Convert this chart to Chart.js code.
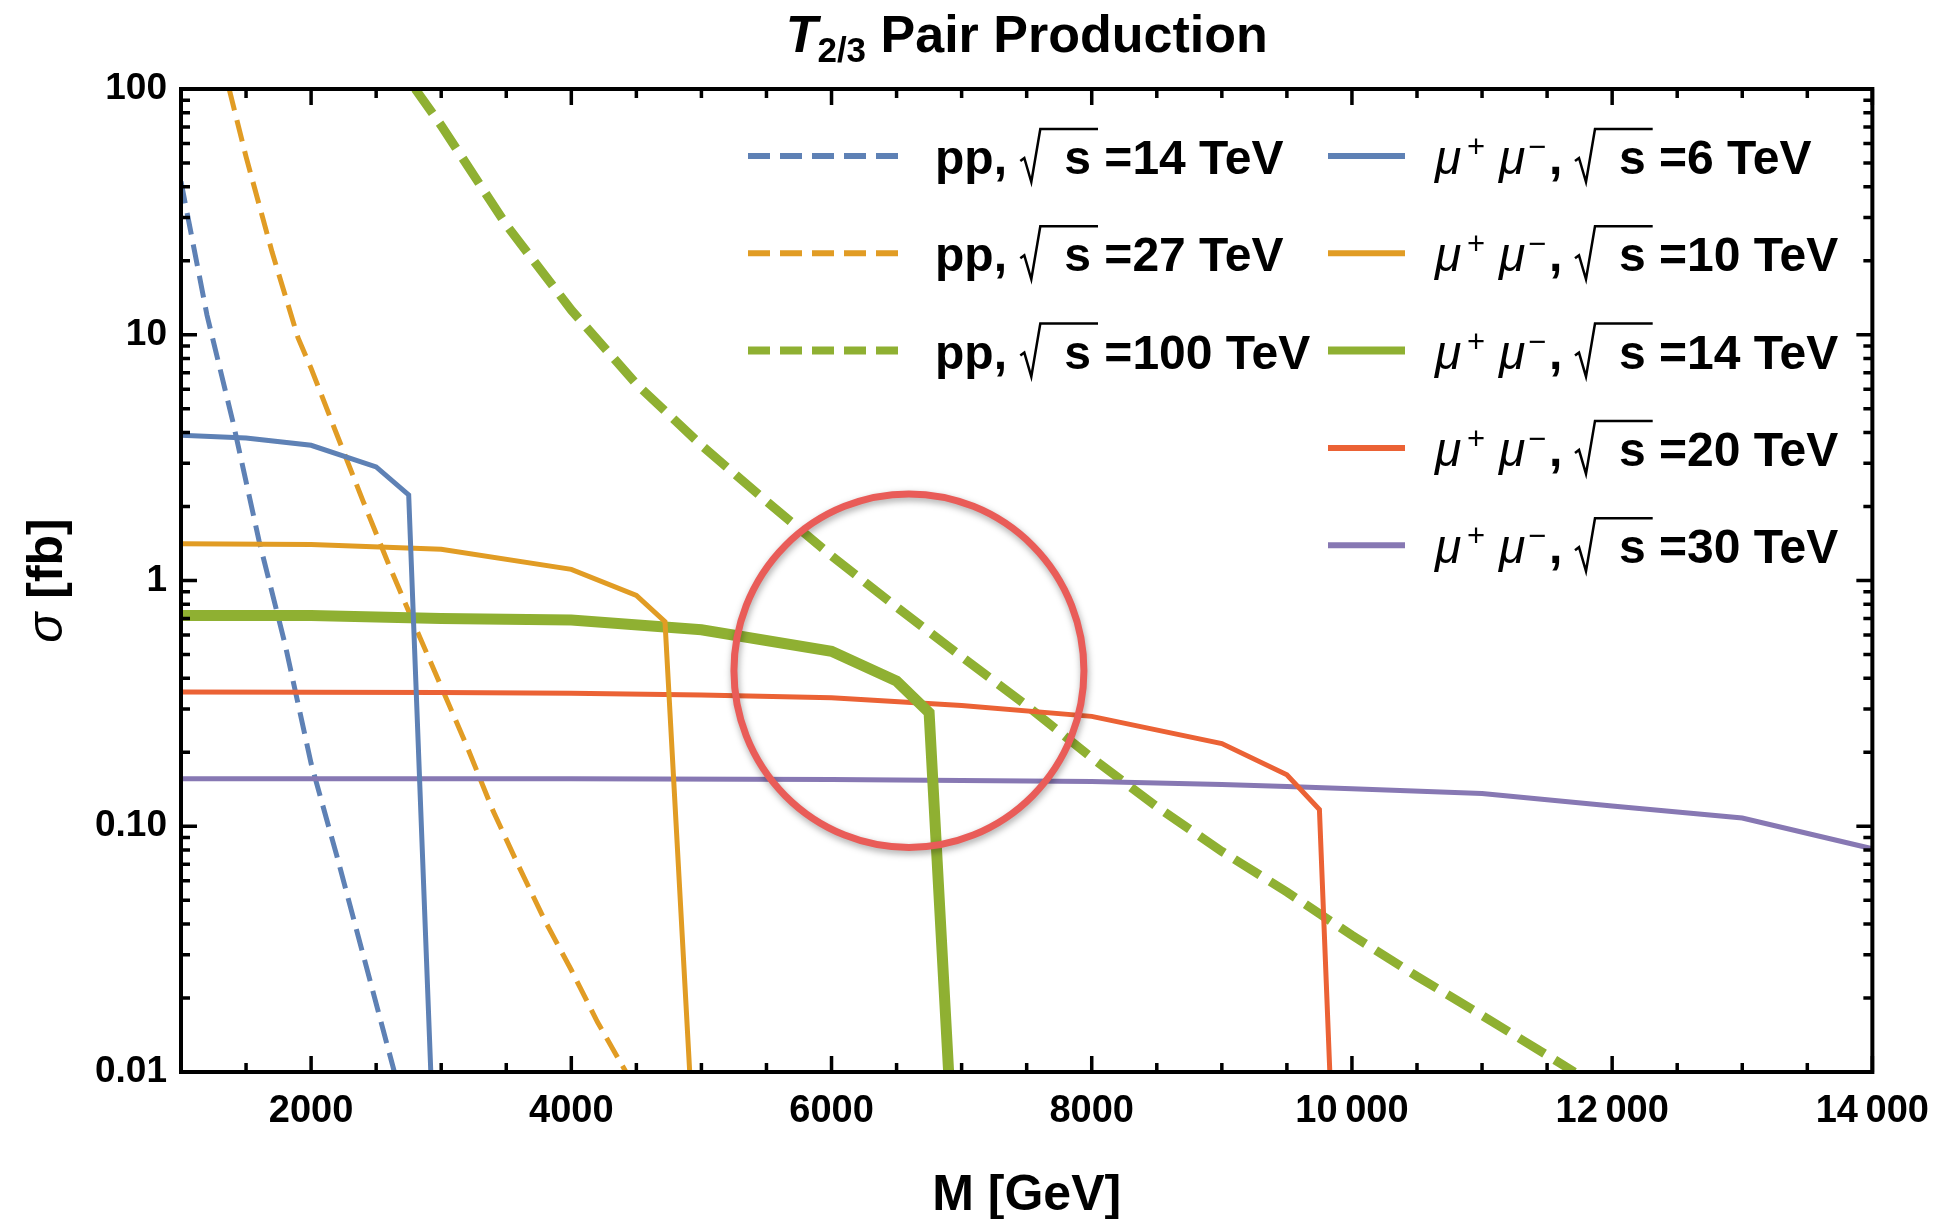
<!DOCTYPE html>
<html>
<head>
<meta charset="utf-8">
<script src="https://cdn.jsdelivr.net/npm/chart.js@4.4.1/dist/chart.umd.min.js"></script>
<style>
  html, body { margin: 0; padding: 0; background: #fff; }
  #wrap { width: 1946px; height: 1219px; }
</style>
</head>
<body>
<div id="wrap"><canvas id="myChart" width="1946" height="1219"></canvas></div>
<script>
// cross sections for T(2/3) pair production, M in GeV, sigma in fb
const ppEnergies = ['14', '27', '100']
const muEnergies = ['6', '10', '14', '20', '30']

const massPP14 = [1000, 1200, 1400, 1600, 1800, 2000, 2200, 2400, 2640]
const sigmaPP14 = [42, 12, 4.4, 1.45, 0.55, 0.18, 0.075, 0.03, 0.01]

const massPP27 = [1370, 1500, 1700, 1900, 2000, 2200, 2400, 2600, 2800, 3000, 3200, 3400, 3600, 3800, 4000, 4200, 4420]
const sigmaPP27 = [100, 53, 21.7, 9.7, 7.3, 3.9, 2.1, 1.15, 0.65, 0.37, 0.21, 0.115, 0.068, 0.041, 0.026, 0.016, 0.01]

const massPP100 = [2800, 3000, 3500, 4000, 4500, 5000, 5500, 6000, 6500, 7000, 7500, 8000, 8500, 9000, 9500, 10000, 10500, 11000, 11500, 11710]
const sigmaPP100 = [100, 71, 28, 12.6, 6.3, 3.55, 2.1, 1.26, 0.78, 0.49, 0.31, 0.19, 0.12, 0.079, 0.054, 0.036, 0.0245, 0.017, 0.0117, 0.01]

const massMu6 = [1000, 1500, 2000, 2500, 2750, 2920]
const sigmaMu6 = [3.9, 3.8, 3.55, 2.9, 2.23, 0.01]

const massMu10 = [1000, 2000, 3000, 4000, 4500, 4720, 4910]
const sigmaMu10 = [1.41, 1.40, 1.34, 1.11, 0.87, 0.68, 0.01]

const massMu14 = [1000, 2000, 3000, 4000, 5000, 6000, 6500, 6750, 6900]
const sigmaMu14 = [0.72, 0.72, 0.70, 0.69, 0.63, 0.515, 0.39, 0.29, 0.01]

const massMu20 = [1000, 2000, 3000, 4000, 5000, 6000, 7000, 8000, 9000, 9500, 9750, 9830]
const sigmaMu20 = [0.352, 0.351, 0.35, 0.348, 0.342, 0.333, 0.31, 0.28, 0.217, 0.162, 0.117, 0.01]

const massMu30 = [1000, 2000, 4000, 6000, 8000, 9000, 9500, 10000, 11000, 12000, 13000, 14000]
const sigmaMu30 = [0.156, 0.156, 0.156, 0.155, 0.152, 0.148, 0.145, 0.142, 0.136, 0.121, 0.108, 0.081]

const xTicks = [2000, 4000, 6000, 8000, 10000, 12000, 14000]
const xTickLabels = ['2000', '4000', '6000', '8000', '10\u2009000', '12\u2009000', '14\u2009000']
const yTicks = [0.01, 0.1, 1, 10, 100]
const yTickLabels = ['0.01', '0.10', '1', '10', '100']

// region circled on the plot
const highlight = { mMin: 5250, mMax: 7940, sigmaMin: 0.082, sigmaMax: 2.25 }

const BLUE = '#5e81b5'
const ORANGE = '#e19c24'
const GREEN = '#8fb032'
const RED = '#eb6235'
const PURPLE = '#8778b3'

const FONT = '"Liberation Sans", Arial, Helvetica, sans-serif'

const pairs = (m, s) => m.map((x, i) => ({ x, y: s[i] }))

function ppSet(i, mass, sigma, color, width, dash) {
    return {
        label: `pp, √s =${ppEnergies[i]} TeV`,
        data: pairs(mass, sigma),
        borderColor: color,
        borderWidth: width,
        borderDash: dash,
        head: 'pp', energy: ppEnergies[i], col: 0, row: i
    }
}

function muSet(i, mass, sigma, color, width) {
    return {
        label: `μ+ μ-, √s =${muEnergies[i]} TeV`,
        data: pairs(mass, sigma),
        borderColor: color,
        borderWidth: width,
        head: 'mu', energy: muEnergies[i], col: 1, row: i
    }
}

const datasets = [
    muSet(0, massMu6, sigmaMu6, BLUE, 5),
    muSet(1, massMu10, sigmaMu10, ORANGE, 5),
    muSet(2, massMu14, sigmaMu14, GREEN, 11),
    muSet(3, massMu20, sigmaMu20, RED, 5),
    muSet(4, massMu30, sigmaMu30, PURPLE, 5),
    ppSet(0, massPP14, sigmaPP14, BLUE, 5, [22, 10]),
    ppSet(1, massPP27, sigmaPP27, ORANGE, 5, [22, 10]),
    ppSet(2, massPP100, sigmaPP100, GREEN, 9, [30, 12]),
]

// μ+ μ-, √s =.. TeV  /  pp, √s =.. TeV with a drawn radical
function drawLabel(ctx, x, base, head, energy) {
    const bold = `bold 48px ${FONT}`
    const ital = `italic 48px ${FONT}`
    const sup = `31px ${FONT}`
    let cx = x
    const put = (t, font, dy = 0) => {
        ctx.font = font
        ctx.fillText(t, cx, base + dy)
        cx += ctx.measureText(t).width
    }
    if (head === 'pp') {
        put('pp, ', bold)
    } else {
        put('μ', ital)
        cx = x + 32; put('+', sup, -17)
        cx = x + 64; put('μ', ital)
        cx = x + 93; put('−', sup, -17)
        cx = x + 114; put(',', bold)
        cx = x + 140
    }
    const x0 = cx
    cx += 44
    put('s', bold)
    ctx.beginPath()
    ctx.moveTo(x0, base - 13)
    ctx.lineTo(x0 + 4, base - 16)
    ctx.lineTo(x0 + 11, base + 8)
    ctx.lineTo(x0 + 20, base - 45)
    ctx.lineTo(cx + 7, base - 45)
    ctx.lineWidth = 2.5
    ctx.strokeStyle = '#000'
    ctx.setLineDash([])
    ctx.stroke()
    put(' =' + energy + ' TeV', bold)
}

const legendPlugin = {
    id: 'pairLegend',
    afterDatasetsDraw(chart) {
        const ctx = chart.ctx
        ctx.save()
        ctx.fillStyle = '#000'
        ctx.textBaseline = 'alphabetic'
        for (const ds of chart.data.datasets) {
            const base = 174 + ds.row * 97.3
            const ly = base - 18
            const [x1, x2, tx] = ds.col === 0 ? [748, 899, 935] : [1328, 1405, 1435]
            ctx.beginPath()
            ctx.moveTo(x1, ly)
            ctx.lineTo(x2, ly)
            ctx.strokeStyle = ds.borderColor
            ctx.lineWidth = Math.min(ds.borderWidth + 1, 8)
            ctx.lineCap = 'butt'
            ctx.setLineDash(ds.borderDash ? [22, 10] : [])
            ctx.stroke()
            ctx.fillStyle = '#000'
            drawLabel(ctx, tx, base, ds.head, ds.energy)
        }
        ctx.restore()
    }
}

const highlightPlugin = {
    id: 'highlight',
    afterDatasetsDraw(chart) {
        const { ctx, scales: { x, y } } = chart
        const left = x.getPixelForValue(highlight.mMin)
        const right = x.getPixelForValue(highlight.mMax)
        const top = y.getPixelForValue(highlight.sigmaMax)
        const bottom = y.getPixelForValue(highlight.sigmaMin)
        ctx.save()
        ctx.beginPath()
        ctx.ellipse((left + right) / 2, (top + bottom) / 2, (right - left) / 2, (bottom - top) / 2, 0, 0, Math.PI * 2)
        ctx.strokeStyle = '#e95c58'
        ctx.lineWidth = 7
        ctx.shadowColor = 'rgba(0, 0, 0, 0.35)'
        ctx.shadowBlur = 7
        ctx.shadowOffsetX = 1
        ctx.shadowOffsetY = 3
        ctx.stroke()
        ctx.restore()
    }
}

// box frame with inward ticks on all four sides, plus titles
const framePlugin = {
    id: 'frame',
    afterDraw(chart) {
        const { ctx, chartArea: a, scales: { x, y } } = chart
        ctx.save()
        ctx.strokeStyle = '#000'
        ctx.setLineDash([])
        ctx.lineWidth = 3.5
        ctx.beginPath()
        for (let m = 1500; m <= 14000; m += 500) {
            const px = x.getPixelForValue(m)
            const len = m % 2000 === 0 ? 16 : 9
            ctx.moveTo(px, a.bottom); ctx.lineTo(px, a.bottom - len)
            ctx.moveTo(px, a.top); ctx.lineTo(px, a.top + len)
        }
        for (let d = -2; d <= 1; d++) {
            for (let k = 1; k <= 9; k++) {
                const py = y.getPixelForValue(k * Math.pow(10, d))
                const len = k === 1 ? 16 : 9
                ctx.moveTo(a.left, py); ctx.lineTo(a.left + len, py)
                ctx.moveTo(a.right, py); ctx.lineTo(a.right - len, py)
            }
        }
        ctx.stroke()
        ctx.lineWidth = 4
        ctx.strokeRect(a.left, a.top, a.right - a.left, a.bottom - a.top)

        ctx.fillStyle = '#000'
        ctx.textBaseline = 'alphabetic'
        const cx = (a.left + a.right) / 2

        // title: T_{2/3} Pair Production
        const fT = `italic bold 52px ${FONT}`
        const fSub = `bold 35px ${FONT}`
        const fRest = `bold 52px ${FONT}`
        ctx.font = fT; const wT = ctx.measureText('T').width
        ctx.font = fSub; const wS = ctx.measureText('2/3').width
        ctx.font = fRest; const wR = ctx.measureText(' Pair Production').width
        let tx = cx - (wT + wS + wR) / 2
        ctx.font = fT; ctx.fillText('T', tx, 51.5); tx += wT
        ctx.font = fSub; ctx.fillText('2/3', tx, 61.5); tx += wS
        ctx.font = fRest; ctx.fillText(' Pair Production', tx, 51.5)

        // x axis title
        ctx.textAlign = 'center'
        ctx.font = `bold 50px ${FONT}`
        ctx.fillText('M [GeV]', cx, 1210)

        // y axis title, rotated
        ctx.translate(62, (a.top + a.bottom) / 2)
        ctx.rotate(-Math.PI / 2)
        ctx.textAlign = 'left'
        ctx.font = `italic 50px ${FONT}`
        const wSig = ctx.measureText('σ').width
        ctx.font = `bold 50px ${FONT}`
        const wFb = ctx.measureText(' [fb]').width
        let sx = -(wSig + wFb) / 2
        ctx.font = `italic 50px ${FONT}`
        ctx.fillText('σ', sx, 0)
        ctx.font = `bold 50px ${FONT}`
        ctx.fillText(' [fb]', sx + wSig, 0)
        ctx.restore()
    }
}

const canvas = document.getElementById('myChart')

const config = {
    type: 'scatter',
    data: {
        datasets: datasets.map(ds => ({
            ...ds,
            showLine: true,
            pointRadius: 0,
            pointHoverRadius: 0,
            fill: false,
            tension: 0,
            borderCapStyle: 'butt',
            clip: 0
        }))
    },
    options: {
        responsive: false,
        animation: false,
        devicePixelRatio: 1,
        layout: {
            padding: { top: 89, right: 69, left: 0, bottom: 0 }
        },
        plugins: {
            legend: { display: false },
            title: { display: false },
            tooltip: { enabled: false }
        },
        scales: {
            x: {
                type: 'linear',
                min: 1000,
                max: 14000,
                grid: { display: false, drawTicks: false },
                border: { display: false },
                afterBuildTicks: scale => { scale.ticks = xTicks.map(v => ({ value: v })) },
                afterFit: scale => { scale.height = 147 },
                ticks: {
                    autoSkip: false,
                    maxRotation: 0,
                    padding: 17,
                    color: '#000',
                    font: { family: FONT, size: 38, weight: 'bold' },
                    callback: v => xTickLabels[xTicks.indexOf(v)]
                }
            },
            y: {
                type: 'logarithmic',
                min: 0.01,
                max: 100,
                grid: { display: false, drawTicks: false },
                border: { display: false },
                afterBuildTicks: scale => { scale.ticks = yTicks.map(v => ({ value: v })) },
                afterFit: scale => { scale.width = 181 },
                ticks: {
                    autoSkip: false,
                    padding: 14,
                    color: '#000',
                    font: { family: FONT, size: 37, weight: 'bold' },
                    callback: v => yTickLabels[yTicks.indexOf(v)]
                }
            }
        }
    },
    plugins: [highlightPlugin, legendPlugin, framePlugin]
}

const myChart = new Chart(canvas, config)
</script>
</body>
</html>
